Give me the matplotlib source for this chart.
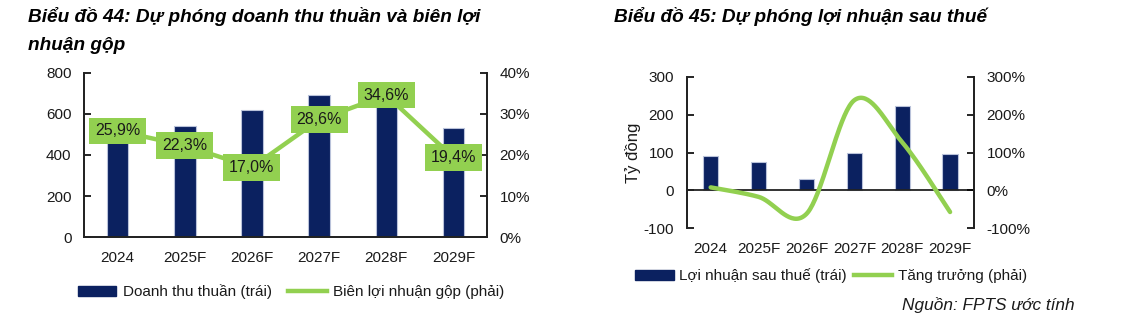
import numpy as np
import matplotlib
matplotlib.use("Agg")
import matplotlib.pyplot as plt
from matplotlib.lines import Line2D
from matplotlib.patches import Patch

plt.rcParams['font.family'] = ['Liberation Sans', 'DejaVu Sans']
plt.rcParams['axes.unicode_minus'] = False

# data
years = ["2024", "2025F", "2026F", "2027F", "2028F", "2029F"]
revenue = [480, 541, 618, 693, 710, 532]
gross_margin = [25.9, 22.3, 17.0, 28.6, 34.6, 19.4]
npat = [92, 76, 29, 98, 222, 95]
npat_growth = [8, -17, -62, 238, 127, -57]

NAVY = "#0b2160"
GREEN = "#92d050"
EDGE = "#b9c2da"
TXT = "#1a1a1a"


def smooth(xs, ys, n=40):
    # Excel-like smoothed line (Catmull-Rom as cubic Bezier)
    p = np.column_stack([xs, ys]).astype(float)
    p = np.vstack([p[0], p, p[-1]])
    out = []
    for i in range(1, len(p) - 2):
        p0, p1, p2, p3 = p[i - 1], p[i], p[i + 1], p[i + 2]
        c1 = p1 + (p2 - p0) / 6
        c2 = p2 - (p3 - p1) / 6
        t = np.linspace(0, 1, n)[:, None]
        seg = ((1 - t) ** 3) * p1 + 3 * ((1 - t) ** 2) * t * c1 + 3 * (1 - t) * t ** 2 * c2 + t ** 3 * p2
        out.append(seg if i == 1 else seg[1:])
    out = np.vstack(out)
    return out[:, 0], out[:, 1]


fig = plt.figure(figsize=(11.4, 3.27), dpi=100)

x = np.arange(len(years))

# ---------- left chart ----------
ax1 = fig.add_axes([0.0737, 0.2752, 0.3535, 0.5016])
ax1.bar(x, revenue, width=0.32, color=NAVY, edgecolor=EDGE, linewidth=0.8, zorder=2)
ax1.set_xlim(-0.5, len(years) - 0.5)
ax1.set_ylim(0, 800)
ax1.set_yticks(np.arange(0, 801, 200))
ax1.set_xticks(x)
ax1.set_xticklabels(years)
ax1r = ax1.twinx()
ax1r.plot(x, gross_margin, color=GREEN, lw=3.2, zorder=3, solid_capstyle="round")
ax1r.set_ylim(0, 40)
ax1r.set_yticks(np.arange(0, 41, 10))
ax1r.set_yticklabels([f"{v}%" for v in range(0, 41, 10)])
for xi, v in zip(x, gross_margin):
    ax1r.text(xi, v, f"{v:.1f}".replace(".", ",") + "%", ha="center", va="center",
              fontsize=11.5, color=TXT, zorder=5,
              bbox=dict(boxstyle="square,pad=0.36", fc=GREEN, ec="none"))

for a in (ax1, ax1r):
    a.spines["top"].set_visible(False)
    for s in ("left", "right", "bottom"):
        a.spines[s].set_linewidth(1.3)
        a.spines[s].set_color("#222222")
    a.tick_params(axis="y", direction="in", length=5, width=1.2, pad=9, labelsize=11, labelcolor=TXT)
    a.tick_params(axis="x", length=0, pad=10, labelsize=11, labelcolor=TXT)
ax1.set_zorder(ax1r.get_zorder() - 1)
ax1r.patch.set_visible(False)

# ---------- right chart ----------
ax2 = fig.add_axes([0.6024, 0.3018, 0.2520, 0.4636])
ax2.bar(x, npat, width=0.32, color=NAVY, edgecolor=EDGE, linewidth=0.8, zorder=2)
ax2.axhline(0, color="#222222", lw=1.3, zorder=3)
ax2.set_xlim(-0.5, len(years) - 0.5)
ax2.set_ylim(-100, 300)
ax2.set_yticks(np.arange(-100, 301, 100))
ax2.set_xticks(x)
ax2.set_xticklabels(years)
ax2.set_ylabel("Tỷ đồng", fontsize=12, color=TXT, labelpad=2)
ax2r = ax2.twinx()
sx, sy = smooth(x, npat_growth)
ax2r.plot(sx, sy, color=GREEN, lw=3.2, zorder=4, solid_capstyle="round")
ax2r.set_ylim(-100, 300)
ax2r.set_yticks(np.arange(-100, 301, 100))
ax2r.set_yticklabels([f"{v}%" for v in range(-100, 301, 100)])

for a in (ax2, ax2r):
    a.spines["top"].set_visible(False)
    a.spines["bottom"].set_visible(False)
    for s in ("left", "right"):
        a.spines[s].set_linewidth(1.3)
        a.spines[s].set_color("#222222")
    a.tick_params(axis="y", direction="in", length=5, width=1.2, pad=9, labelsize=11, labelcolor=TXT)
    a.tick_params(axis="x", length=0, pad=10, labelsize=11, labelcolor=TXT)
ax2.set_zorder(ax2r.get_zorder() - 1)
ax2r.patch.set_visible(False)

# ---------- legends ----------
h1 = [Patch(fc=NAVY, ec=NAVY), Line2D([], [], color=GREEN, lw=3.2)]
fig.legend(h1, ["Doanh thu thuần (trái)", "Biên lợi nhuận gộp (phải)"], loc="center",
           bbox_to_anchor=(0.2553, 0.107), ncol=2, frameon=False, fontsize=11,
           handlelength=2.5, handleheight=0.6, handletextpad=0.4, columnspacing=1.1,
           labelcolor=TXT)
h2 = [Patch(fc=NAVY, ec=NAVY), Line2D([], [], color=GREEN, lw=3.2)]
fig.legend(h2, ["Lợi nhuận sau thuế (trái)", "Tăng trưởng (phải)"], loc="center",
           bbox_to_anchor=(0.729, 0.156), ncol=2, frameon=False, fontsize=11,
           handlelength=2.5, handleheight=0.6, handletextpad=0.35, columnspacing=0.5,
           labelcolor=TXT)

# ---------- titles ----------
tkw = dict(fontsize=13.7, fontweight="bold", fontstyle="italic", va="baseline", color="black")
fig.text(28 / 1140, 1 - 22 / 327, "Biểu đồ 44: Dự phóng doanh thu thuần và biên lợi", **tkw)
fig.text(28 / 1140, 1 - 50 / 327, "nhuận gộp", **tkw)
fig.text(614 / 1140, 1 - 22 / 327, "Biểu đồ 45: Dự phóng lợi nhuận sau thuế", **tkw)
fig.text(1075 / 1140, 1 - 310 / 327, "Nguồn: FPTS ước tính", ha="right", va="baseline",
         fontsize=12.4, fontstyle="italic", color=TXT)

fig.savefig("out.png", dpi=100, facecolor="white")
